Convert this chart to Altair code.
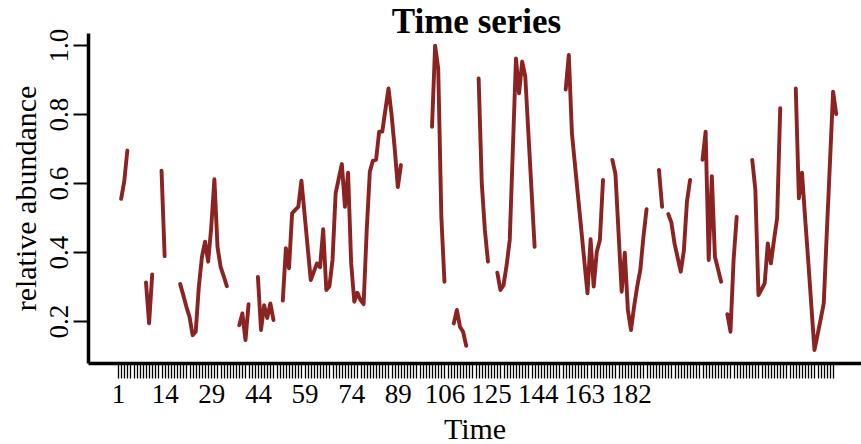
import json
import altair as alt
import pandas as pd

# ---- data (index 1..232, None = gap) ----
abundance = [
    None, 0.554, 0.604, 0.694, None, None, None, None, None, 0.312,      # 1-10
    0.193, 0.335, None, None, 0.636, 0.388, None, None, None, None,      # 11-20
    0.307, 0.275, 0.241, 0.212, 0.159, 0.169, 0.300, 0.386, 0.430, 0.372,  # 21-30
    0.473, 0.611, 0.415, 0.357, 0.330, 0.301, None, None, None, 0.188,   # 31-40
    0.222, 0.145, 0.249, None, None, 0.328, 0.174, 0.246, 0.209, 0.251,  # 41-50
    0.203, None, None, 0.259, 0.411, 0.353, 0.512, 0.522, 0.531, 0.607,  # 51-60
    0.511, 0.414, 0.319, 0.343, 0.367, 0.356, 0.466, 0.290, 0.301, 0.377,  # 61-70
    0.570, 0.613, 0.655, 0.531, 0.630, 0.367, 0.256, 0.282, 0.261, 0.249,  # 71-80
    0.464, 0.633, 0.665, 0.667, 0.749, 0.749, 0.812, 0.874, 0.797, 0.700,  # 81-90
    0.588, 0.652, None, None, None, None, None, None, None, None,        # 91-100
    None, 0.763, 0.998, 0.932, 0.502, 0.314, None, None, 0.193, 0.232,   # 101-110
    0.183, 0.169, 0.128, None, None, None, 0.903, 0.600, 0.464, 0.372,   # 111-120
    None, None, 0.340, 0.290, 0.304, 0.362, 0.435, 0.698, 0.961, 0.860,  # 121-130
    0.952, 0.908, 0.744, 0.580, 0.415, None, None, None, None, None,     # 131-140
    None, None, None, None, 0.871, 0.971, 0.744, 0.651, 0.558, 0.466,    # 141-150
    0.373, 0.280, 0.437, 0.300, 0.401, 0.435, 0.609, None, None, 0.667,  # 151-160
    0.626, 0.455, 0.285, 0.398, 0.232, 0.174, 0.242, 0.300, 0.348, 0.444,  # 161-170
    0.524, None, None, None, 0.638, 0.531, None, 0.510, 0.485, 0.425,    # 171-180
    0.384, 0.343, 0.404, 0.546, 0.609, None, None, None, 0.667, 0.749,   # 181-190
    0.377, 0.620, 0.386, 0.350, 0.314, None, 0.220, 0.169, 0.377, 0.502,  # 191-200
    None, None, None, None, 0.667, 0.580, 0.275, 0.292, 0.309, 0.425,    # 201-210
    0.367, 0.435, 0.498, 0.817, None, None, None, None, 0.874, 0.556,    # 211-220
    0.630, 0.500, 0.375, 0.245, 0.116, 0.160, 0.205, 0.251, 0.460, 0.660,  # 221-230
    0.865, 0.800,                                                        # 231-232
]
time_index = list(range(1, len(abundance) + 1))

tick_positions = list(range(1, 232))
label_positions = [1, 16, 31, 46, 61, 76, 91, 106, 121, 136, 151, 166]
label_texts = ["1", "14", "29", "44", "59", "74", "89", "106", "125", "144", "163", "182"]
y_ticks = [0.2, 0.4, 0.6, 0.8, 1.0]
chart_title = "Time series"

df = pd.DataFrame({"Time": time_index, "abundance": abundance})

FONT = "Liberation Serif"
W, H = 773, 330

label_expr = (
    f"indexof({json.dumps(label_positions)}, datum.value) >= 0 ? "
    f"{json.dumps(label_texts)}[indexof({json.dumps(label_positions)}, datum.value)] : ''"
)

line = (
    alt.Chart(df)
    .mark_line(color="#8B2323", strokeWidth=3.9, strokeCap="round", strokeJoin="round")
    .encode(
        x=alt.X(
            "Time:Q",
            scale=alt.Scale(domain=[-8.65, 239.98], nice=False, zero=False),
            axis=alt.Axis(
                values=tick_positions,
                labelExpr=label_expr,
                labelOverlap=False,
                labelFlush=False,
                grid=False,
                domainColor="black",
                domainWidth=3.5,
                tickColor="black",
                tickWidth=1.3,
                tickSize=15,
                labelFont=FONT,
                labelFontSize=27,
                labelColor="black",
                labelPadding=3,
                title="Time",
                titleFont=FONT,
                titleFontSize=30,
                titleFontWeight="normal",
                titleColor="black",
                titleX=W / 2,
                titleY=75,
                titleAlign="center",
                titleBaseline="alphabetic",
            ),
        ),
        y=alt.Y(
            "abundance:Q",
            scale=alt.Scale(domain=[0.0783, 1.0348], nice=False, zero=False),
            axis=alt.Axis(
                values=y_ticks,
                format=".1f",
                grid=False,
                domainColor="black",
                domainWidth=3.5,
                tickColor="black",
                tickWidth=2,
                tickSize=15,
                labelFont=FONT,
                labelFontSize=27,
                labelColor="black",
                labelAngle=270,
                labelAlign="center",
                labelBaseline="alphabetic",
                labelPadding=6,
                title="relative abundance",
                titleFont=FONT,
                titleFontSize=30,
                titleFontWeight="normal",
                titleColor="black",
                titleAngle=270,
                titleX=-53,
                titleY=H / 2,
                titleAlign="center",
                titleBaseline="alphabetic",
            ),
        ),
    )
)

title_text = (
    alt.Chart(alt.Data(values=[{"t": chart_title}]))
    .mark_text(
        font=FONT,
        fontSize=35,
        fontWeight="bold",
        color="black",
        align="center",
        baseline="alphabetic",
    )
    .encode(x=alt.value(W / 2 + 2), y=alt.value(0), text="t:N")
)

chart = (
    alt.layer(line, title_text)
    .properties(
        width=W,
        height=H,
        autosize=alt.AutoSizeParams(type="none"),
        padding={"left": 88, "top": 33, "right": 0, "bottom": 81},
        background="white",
    )
    .configure_view(strokeWidth=0)
)

chart.save("out.html", embed_options={"renderer": "svg", "actions": False})
